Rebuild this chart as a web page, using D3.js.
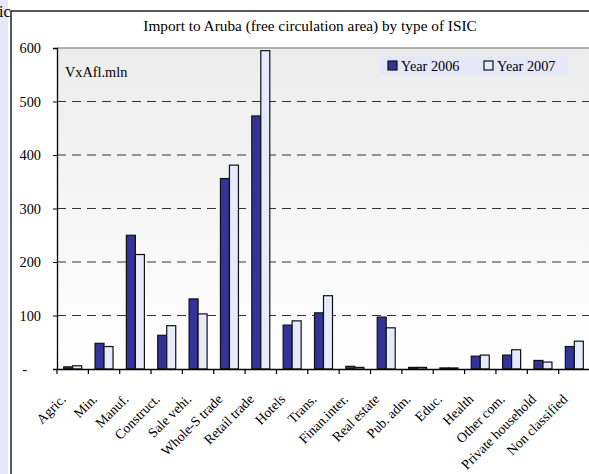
<!DOCTYPE html>
<html>
<head>
<meta charset="utf-8">
<script src="https://cdn.jsdelivr.net/npm/d3@7"></script>
<style>
  body { margin: 0; background: #fff; }
  svg text { font-family: "Liberation Serif", "Times New Roman", serif; fill: #000; }
</style>
</head>
<body>
<div id="chart"></div>
<script>
// categories (ISIC types)
const categories = ["Agric.", "Min.", "Manuf.", "Construct.", "Sale vehi.", "Whole-S trade",
  "Retail trade", "Hotels", "Trans.", "Finan.inter.", "Real estate", "Pub. adm.", "Educ.",
  "Health", "Other com.", "Private household", "Non classified"];

// import values in Afl. mln
const year2006 = [4, 48, 250, 63, 131, 356, 473, 82, 105, 5, 97, 3, 2, 24, 26, 16, 42];
const year2007 = [6, 42, 214, 81, 103, 381, 595, 90, 137, 3, 77, 3, 2, 26, 36, 13, 52];

const seriesNames = ["Year 2006", "Year 2007"];
const yTicks = [0, 100, 200, 300, 400, 500, 600];

const W = 589, H = 474;
const margin = { top: 48, right: 0, bottom: 105, left: 57 };
const width = W - margin.left - margin.right + 1;
const height = H - margin.top - margin.bottom;
const fs = 14.3;

const svg = d3.select("#chart").append("svg")
  .attr("width", W)
  .attr("height", H);

// left strip from the surrounding sheet
svg.append("rect").attr("x", 0).attr("y", 0).attr("width", 8).attr("height", H).attr("fill", "#e6e8fa");
svg.append("text").attr("x", -1).attr("y", 17).attr("font-size", 16).text("ic");

// chart frame
svg.append("rect").attr("x", 11).attr("y", 11).attr("width", W).attr("height", H)
  .attr("fill", "#fff").attr("stroke", "#222").attr("stroke-width", 1.5);

svg.append("text")
  .attr("x", 310).attr("y", 31)
  .attr("text-anchor", "middle")
  .attr("font-size", 15.3)
  .text("Import to Aruba (free circulation area) by type of ISIC");

const defs = svg.append("defs");
const grad = defs.append("linearGradient").attr("id", "bg").attr("x1", 0).attr("y1", 0).attr("x2", 0).attr("y2", 1);
grad.append("stop").attr("offset", "0%").attr("stop-color", "#ececec");
grad.append("stop").attr("offset", "100%").attr("stop-color", "#ffffff");

const g = svg.append("g").attr("transform", `translate(${margin.left},${margin.top})`);

const x = d3.scaleBand().domain(categories).range([0, width]).paddingInner(0).paddingOuter(0);
const y = d3.scaleLinear().domain([0, 600]).range([height, 0]);

g.append("rect").attr("width", width).attr("height", height).attr("fill", "url(#bg)");

// top border of plot area
g.append("line").attr("x1", 0).attr("x2", width).attr("y1", 0).attr("y2", 0)
  .attr("stroke", "#999").attr("stroke-width", 1.5);

// gridlines
g.selectAll(".grid").data(yTicks.filter(d => d > 0 && d < 600)).enter().append("line")
  .attr("x1", 0).attr("x2", width)
  .attr("y1", d => y(d)).attr("y2", d => y(d))
  .attr("stroke", "#333").attr("stroke-width", 1)
  .attr("stroke-dasharray", "9,6");

// bars
const barW = 9;
const data = categories.map((c, i) => ({ cat: c, vals: [year2006[i], year2007[i]] }));
const colors = ["#333399", "#e6ebfc"];

const groups = g.selectAll(".grp").data(data).enter().append("g")
  .attr("transform", d => `translate(${x(d.cat) + x.bandwidth() / 2 - barW},0)`);

groups.selectAll("rect").data(d => d.vals).enter().append("rect")
  .attr("x", (d, i) => i * barW)
  .attr("y", d => y(d))
  .attr("width", barW)
  .attr("height", d => y(0) - y(d))
  .attr("fill", (d, i) => colors[i])
  .attr("stroke", "#111")
  .attr("stroke-width", 1.2);

// y axis
const yAxis = g.append("g")
  .call(d3.axisLeft(y).tickValues(yTicks).tickSize(4).tickPadding(12)
    .tickFormat(d => d === 0 ? "-" : d));
yAxis.attr("font-family", null).attr("font-size", null);
yAxis.select(".domain").attr("stroke", "#000").attr("stroke-width", 1.3);
yAxis.selectAll("text").style("font-size", fs + "px")
  .attr("dx", d => d === 0 ? -14 : 0);

// x axis
const xAxis = g.append("g").attr("transform", `translate(0,${height})`)
  .call(d3.axisBottom(x).tickValues([]).tickSizeOuter(0));
xAxis.select(".domain").attr("stroke", "#000").attr("stroke-width", 1.3);

// category boundary ticks
xAxis.selectAll(".sep").data(categories).enter().append("line")
  .attr("x1", d => x(d)).attr("x2", d => x(d))
  .attr("y1", 0).attr("y2", 5)
  .attr("stroke", "#000").attr("stroke-width", 1.2);

// rotated labels
g.selectAll(".xlab").data(categories).enter().append("text")
  .attr("transform", d => `translate(${x(d) + x.bandwidth() / 2 - 6},${height + 31}) rotate(-45)`)
  .attr("text-anchor", "end")
  .attr("font-size", 13.8)
  .text(d => d);

// unit label
g.append("text").attr("x", 8).attr("y", 29).attr("font-size", fs).text("VxAfl.mln");

// legend
const lg = svg.append("g").attr("transform", "translate(380,56)");
lg.append("rect").attr("width", 188).attr("height", 19).attr("fill", "#e6e8fa");
seriesNames.forEach((name, i) => {
  const item = lg.append("g").attr("transform", `translate(${8 + i * 96},5)`);
  item.append("rect").attr("width", 9).attr("height", 9)
    .attr("fill", colors[i]).attr("stroke", "#111").attr("stroke-width", 1.2);
  item.append("text").attr("x", 13).attr("y", 10).attr("font-size", fs).text(name);
});
</script>
</body>
</html>
